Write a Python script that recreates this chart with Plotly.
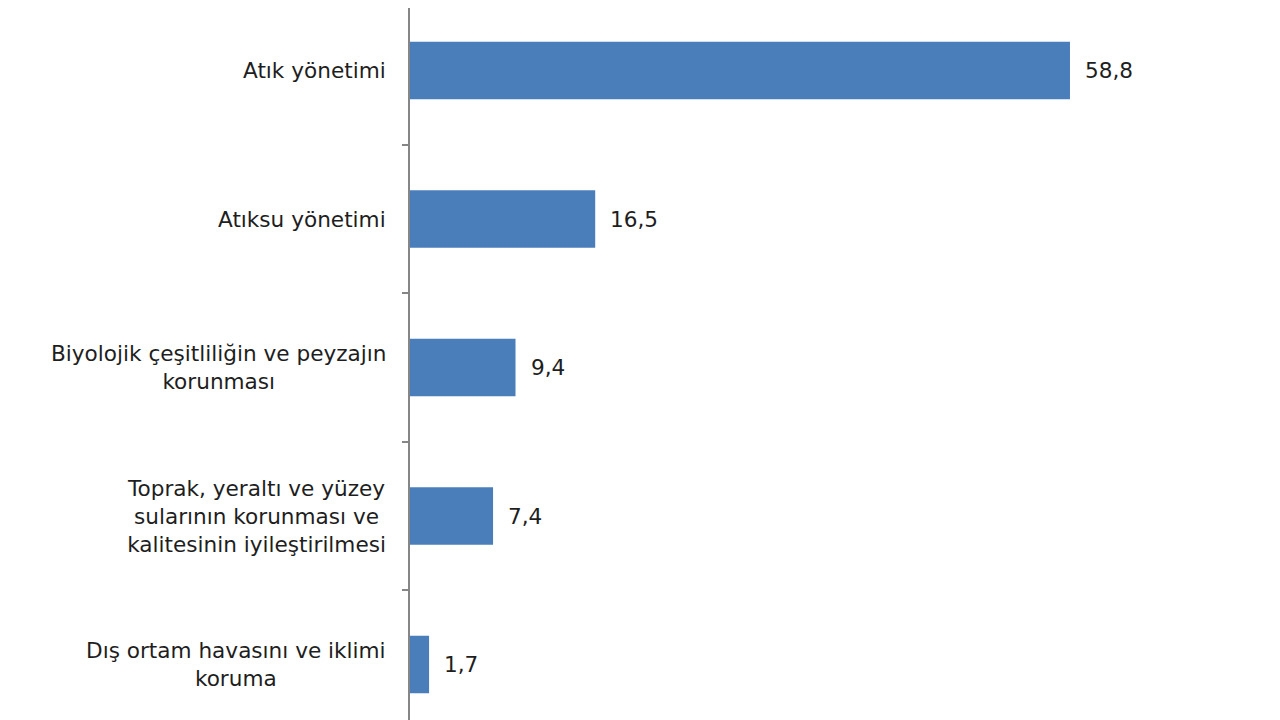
import plotly.graph_objects as go

# Data (share, %)
categories = [
    "Atık yönetimi",
    "Atıksu yönetimi",
    "Biyolojik çeşitliliğin ve peyzajın<br>korunması",
    "Toprak, yeraltı ve yüzey<br>sularının korunması ve<br>kalitesinin iyileştirilmesi",
    "Dış ortam havasını ve iklimi<br>koruma",
]
values = [58.8, 16.5, 9.4, 7.4, 1.7]

bar_color = "#4a7ebb"
text_color = "#1e1e1e"
font_family = "DejaVu Sans"

fig = go.Figure(go.Bar(
    x=values,
    y=categories,
    orientation="h",
    marker=dict(color=bar_color, line=dict(width=0)),
    hoverinfo="skip",
))

# category labels, lines centred on each other like the original
for cat in categories:
    fig.add_annotation(
        x=0, xref="paper", y=cat, yref="y",
        text=cat, showarrow=False,
        xanchor="right", yanchor="middle", align="center",
        xshift=-22,
        font=dict(family=font_family, size=21.6, color=text_color),
    )

# value labels right of each bar, decimal comma
for cat, v in zip(categories, values):
    fig.add_annotation(
        x=v, y=cat, text=f"{v:.1f}".replace(".", ","),
        showarrow=False, xanchor="left", yanchor="middle",
        xshift=13,
        font=dict(family=font_family, size=21.6, color=text_color),
    )

# page body has an 8px margin, so the figure is sized to fit inside it
fig.update_layout(
    width=1272, height=712,
    margin=dict(l=402, r=20, t=0, b=0),
    paper_bgcolor="white", plot_bgcolor="white",
    bargap=0.613,
    showlegend=False,
    xaxis=dict(range=[0, 75.73], visible=False, fixedrange=True),
    yaxis=dict(
        range=[4.3737, -0.4209],
        showline=True, linecolor="#868686", linewidth=1.5,
        ticks="outside", ticklen=6, tickcolor="#868686", tickwidth=1.5,
        tickson="boundaries",
        showticklabels=False, showgrid=False, zeroline=False,
        fixedrange=True,
    ),
)

fig.write_html("out.html")
